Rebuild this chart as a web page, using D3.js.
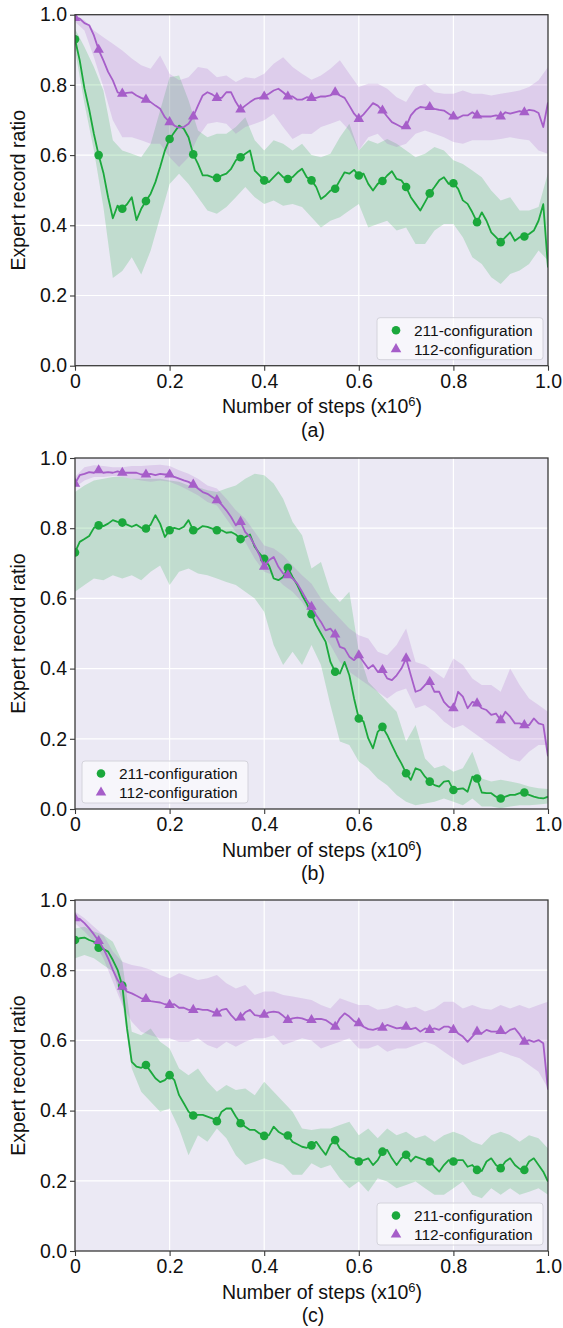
<!DOCTYPE html>
<html>
<head>
<meta charset="utf-8">
<script src="https://cdn.jsdelivr.net/npm/d3@7"></script>
<style>
  body { margin: 0; background: #fff; }
  svg text { font-family: "Liberation Sans", Arial, Helvetica, sans-serif; fill: #111; }
</style>
</head>
<body>
<div id="chart"></div>
<script>

//******************************************************************************
//**  Data (mean every 0.01 x10^6 steps, band every 0.02 x10^6 steps)
//******************************************************************************
var xTicks = [0, 0.2, 0.4, 0.6, 0.8, 1.0];
var yTicks = [0, 0.2, 0.4, 0.6, 0.8, 1.0];
var seriesNames = ["211-configuration", "112-configuration"];
var captions = ["(a)", "(b)", "(c)"];

var aGreenMean = [
    0.93, 0.87, 0.79, 0.73, 0.66, 0.60, 0.55, 0.48, 0.42, 0.456,
    0.447, 0.46, 0.48, 0.415, 0.447, 0.469, 0.49, 0.523, 0.566, 0.613,
    0.646, 0.665, 0.684, 0.675, 0.651, 0.602, 0.575, 0.542, 0.542, 0.537,
    0.535, 0.542, 0.547, 0.561, 0.585, 0.594, 0.604, 0.613, 0.556, 0.542,
    0.528, 0.523, 0.537, 0.551, 0.537, 0.532, 0.537, 0.551, 0.561, 0.537,
    0.528, 0.509, 0.475, 0.485, 0.499, 0.504, 0.528, 0.551, 0.547, 0.558,
    0.542, 0.547, 0.518, 0.499, 0.518, 0.526, 0.542, 0.554, 0.532, 0.528,
    0.509, 0.480, 0.461, 0.442, 0.466, 0.491, 0.509, 0.528, 0.537, 0.518,
    0.520, 0.504, 0.471, 0.461, 0.437, 0.409, 0.437, 0.413, 0.380, 0.366,
    0.352, 0.366, 0.380, 0.356, 0.366, 0.368, 0.375, 0.385, 0.413, 0.46,
    0.28
];
var aPurpleMean = [
    0.991, 0.989, 0.976, 0.970, 0.941, 0.900, 0.870, 0.837, 0.813, 0.779,
    0.775, 0.777, 0.779, 0.770, 0.763, 0.758, 0.751, 0.741, 0.732, 0.708,
    0.694, 0.684, 0.678, 0.680, 0.689, 0.710, 0.741, 0.770, 0.779, 0.773,
    0.763, 0.763, 0.779, 0.779, 0.751, 0.730, 0.741, 0.751, 0.760, 0.763,
    0.767, 0.775, 0.784, 0.789, 0.779, 0.767, 0.767, 0.758, 0.758, 0.765,
    0.763, 0.763, 0.767, 0.767, 0.770, 0.779, 0.770, 0.763, 0.741, 0.718,
    0.703, 0.716, 0.732, 0.748, 0.741, 0.727, 0.710, 0.694, 0.687, 0.680,
    0.682, 0.713, 0.729, 0.737, 0.735, 0.737, 0.732, 0.729, 0.727, 0.718,
    0.710, 0.706, 0.713, 0.713, 0.722, 0.713, 0.710, 0.710, 0.710, 0.713,
    0.710, 0.722, 0.718, 0.722, 0.725, 0.722, 0.729, 0.727, 0.720, 0.68,
    0.75
];
var aGreenUpper = [
    0.96, 0.908, 0.851, 0.784, 0.642, 0.613, 0.604, 0.594, 0.632, 0.727,
    0.822, 0.827, 0.756, 0.670, 0.651, 0.661, 0.661, 0.680, 0.708, 0.642,
    0.613, 0.642, 0.632, 0.613, 0.632, 0.60,
    0.594, 0.604, 0.651, 0.689, 0.613, 0.642, 0.632, 0.646, 0.632, 0.613,
    0.594, 0.604, 0.623, 0.613, 0.585, 0.575, 0.556, 0.537, 0.499, 0.471,
    0.480, 0.442, 0.442, 0.452, 0.55
];
var aGreenLower = [
    0.90, 0.746, 0.613, 0.452, 0.25, 0.27, 0.309, 0.26, 0.328, 0.423,
    0.518, 0.547, 0.518, 0.480, 0.442, 0.433, 0.452, 0.480, 0.509, 0.480,
    0.461, 0.471, 0.456, 0.461, 0.452, 0.423,
    0.394, 0.413, 0.423, 0.442, 0.461, 0.394, 0.404, 0.413, 0.385, 0.394,
    0.347, 0.347, 0.385, 0.404, 0.404, 0.366, 0.309, 0.290, 0.252, 0.233,
    0.261, 0.271, 0.290, 0.328, 0.30
];
var aPurpleUpper = [
    1.0, 0.984, 0.955, 0.936, 0.917, 0.898, 0.875, 0.856, 0.846, 0.884,
    0.832, 0.813, 0.822, 0.851, 0.846, 0.822, 0.827, 0.808, 0.822, 0.818,
    0.832, 0.860, 0.879, 0.851, 0.832, 0.815,
    0.827, 0.846, 0.870, 0.832, 0.794, 0.803, 0.803, 0.789, 0.765, 0.751,
    0.794, 0.803, 0.779, 0.775, 0.775, 0.784, 0.775, 0.775, 0.770, 0.775,
    0.779, 0.784, 0.794, 0.813, 0.851
];
var aPurpleLower = [
    0.98, 0.955, 0.879, 0.794, 0.699, 0.651, 0.651, 0.642, 0.632, 0.632,
    0.594, 0.566, 0.594, 0.651, 0.689, 0.694, 0.689, 0.661, 0.680, 0.689,
    0.699, 0.718, 0.680, 0.646, 0.661, 0.66,
    0.680, 0.689, 0.699, 0.670, 0.613, 0.651, 0.661, 0.632, 0.623, 0.632,
    0.661, 0.670, 0.661, 0.651, 0.637, 0.632, 0.642, 0.642, 0.642, 0.646,
    0.651, 0.646, 0.642, 0.613, 0.604
];

var bGreenMean = [
    0.731, 0.761, 0.769, 0.778, 0.801, 0.808, 0.806, 0.813, 0.823, 0.818,
    0.816, 0.810, 0.804, 0.810, 0.801, 0.799, 0.810, 0.837, 0.813, 0.775,
    0.794, 0.801, 0.797, 0.804, 0.823, 0.794, 0.797, 0.806, 0.804, 0.799,
    0.794, 0.794, 0.787, 0.789, 0.782, 0.769, 0.775, 0.782, 0.747, 0.728,
    0.713, 0.694, 0.657, 0.652, 0.661, 0.687, 0.661, 0.638, 0.609, 0.585,
    0.555, 0.524, 0.500, 0.476, 0.419, 0.391, 0.386, 0.419, 0.381, 0.315,
    0.258, 0.249, 0.201, 0.173, 0.220, 0.234, 0.211, 0.182, 0.154, 0.130,
    0.102, 0.083, 0.116, 0.111, 0.092, 0.078, 0.068, 0.064, 0.078, 0.080,
    0.054, 0.057, 0.059, 0.049, 0.092, 0.087, 0.047, 0.045, 0.045, 0.035,
    0.030, 0.035, 0.040, 0.040, 0.045, 0.047, 0.040, 0.035, 0.032, 0.030,
    0.035
];
var bPurpleMean = [
    0.927, 0.951, 0.955, 0.960, 0.958, 0.965, 0.958, 0.960, 0.958, 0.962,
    0.958, 0.958, 0.958, 0.958, 0.953, 0.953, 0.955, 0.951, 0.955, 0.953,
    0.953, 0.946, 0.941, 0.936, 0.932, 0.924, 0.913, 0.903, 0.898, 0.889,
    0.880, 0.867, 0.851, 0.832, 0.808, 0.818, 0.789, 0.775, 0.751, 0.723,
    0.690, 0.709, 0.718, 0.690, 0.671, 0.666, 0.657, 0.642, 0.619, 0.595,
    0.576, 0.552, 0.533, 0.509, 0.514, 0.497, 0.462, 0.457, 0.434, 0.424,
    0.438, 0.419, 0.400, 0.410, 0.391, 0.396, 0.372, 0.367, 0.381, 0.400,
    0.429, 0.381, 0.334, 0.339, 0.353, 0.362, 0.334, 0.334, 0.305, 0.291,
    0.287, 0.334, 0.320, 0.287, 0.305, 0.301, 0.287, 0.282, 0.268, 0.272,
    0.253, 0.277, 0.263, 0.244, 0.244, 0.239, 0.239, 0.258, 0.244, 0.24,
    0.15
];
var bGreenUpper = [
    0.903, 0.922, 0.936, 0.941, 0.946, 0.946, 0.941, 0.941, 0.941, 0.941,
    0.936, 0.932, 0.922, 0.917, 0.908, 0.903, 0.913, 0.922, 0.941, 0.955,
    0.951, 0.927, 0.884, 0.818, 0.780, 0.685,
    0.704, 0.619, 0.590, 0.619, 0.448, 0.362, 0.334, 0.305, 0.277, 0.192,
    0.239, 0.144, 0.116, 0.125, 0.106, 0.116, 0.163, 0.087, 0.078, 0.083,
    0.078, 0.073, 0.064, 0.059, 0.057
];
var bGreenLower = [
    0.619, 0.638, 0.657, 0.652, 0.666, 0.657, 0.666, 0.652, 0.676, 0.694,
    0.638, 0.676, 0.685, 0.671, 0.666, 0.657, 0.647, 0.638, 0.619, 0.600,
    0.562, 0.467, 0.410, 0.448, 0.410, 0.467,
    0.410, 0.296, 0.192, 0.182, 0.135, 0.116, 0.087, 0.068, 0.040, 0.021,
    0.011, 0.016, 0.021, 0.030, 0.021, 0.011, 0.030, 0.007, 0.007, 0.002,
    0.007, 0.011, 0.011, 0.013, 0.016
];
var bPurpleUpper = [
    0.946, 0.974, 0.979, 0.977, 0.974, 0.974, 0.977, 0.977, 0.979, 0.981,
    0.977, 0.965, 0.955, 0.941, 0.922, 0.913, 0.884, 0.851, 0.827, 0.789,
    0.751, 0.742, 0.723, 0.694, 0.666, 0.642,
    0.600, 0.571, 0.543, 0.514, 0.495, 0.486, 0.448, 0.438, 0.467, 0.514,
    0.419, 0.410, 0.391, 0.372, 0.429, 0.410, 0.372, 0.353, 0.353, 0.334,
    0.400, 0.353, 0.315, 0.296, 0.277
];
var bPurpleLower = [
    0.917, 0.936, 0.946, 0.946, 0.949, 0.946, 0.941, 0.936, 0.932, 0.936,
    0.932, 0.922, 0.908, 0.894, 0.875, 0.865, 0.827, 0.789, 0.761, 0.713,
    0.676, 0.666, 0.638, 0.619, 0.590, 0.548,
    0.505, 0.467, 0.419, 0.391, 0.372, 0.353, 0.334, 0.315, 0.334, 0.343,
    0.287, 0.296, 0.277, 0.249, 0.230, 0.239, 0.220, 0.201, 0.182, 0.163,
    0.144, 0.135, 0.163, 0.182, 0.182
];

var cGreenMean = [
    0.886, 0.891, 0.893, 0.886, 0.881, 0.864, 0.860, 0.853, 0.829, 0.801,
    0.756, 0.634, 0.539, 0.525, 0.522, 0.530, 0.511, 0.492, 0.481, 0.487,
    0.501, 0.487, 0.444, 0.421, 0.397, 0.386, 0.388, 0.388, 0.383, 0.378,
    0.370, 0.397, 0.406, 0.406, 0.383, 0.364, 0.354, 0.345, 0.345, 0.335,
    0.328, 0.330, 0.354, 0.340, 0.332, 0.329, 0.311, 0.304, 0.297, 0.294,
    0.301, 0.311, 0.292, 0.274, 0.302, 0.316, 0.292, 0.283, 0.269, 0.264,
    0.255, 0.259, 0.264, 0.245, 0.259, 0.283, 0.288, 0.264, 0.245, 0.264,
    0.274, 0.255, 0.269, 0.264, 0.259, 0.255, 0.240, 0.226, 0.245, 0.259,
    0.255, 0.259, 0.259, 0.240, 0.245, 0.231, 0.228, 0.255, 0.264, 0.245,
    0.236, 0.255, 0.264, 0.245, 0.234, 0.231, 0.255, 0.264, 0.245, 0.226,
    0.198
];
var cPurpleMean = [
    0.948, 0.946, 0.934, 0.919, 0.902, 0.883, 0.862, 0.834, 0.801, 0.772,
    0.753, 0.739, 0.734, 0.727, 0.720, 0.718, 0.712, 0.710, 0.708, 0.703,
    0.701, 0.703, 0.693, 0.693, 0.687, 0.687, 0.690, 0.687, 0.687, 0.682,
    0.677, 0.687, 0.690, 0.672, 0.658, 0.665, 0.680, 0.687, 0.672, 0.670,
    0.673, 0.680, 0.682, 0.680, 0.670, 0.658, 0.663, 0.665, 0.663, 0.658,
    0.658, 0.661, 0.661, 0.658, 0.649, 0.639, 0.663, 0.677, 0.668, 0.655,
    0.649, 0.639, 0.632, 0.630, 0.634, 0.636, 0.644, 0.639, 0.634, 0.636,
    0.639, 0.632, 0.636, 0.625, 0.634, 0.630, 0.634, 0.630, 0.639, 0.639,
    0.630, 0.620, 0.611, 0.596, 0.611, 0.625, 0.620, 0.630, 0.625, 0.625,
    0.627, 0.620, 0.630, 0.634, 0.617, 0.596, 0.601, 0.596, 0.601, 0.592,
    0.46
];
var cGreenUpper = [
    0.919, 0.924, 0.910, 0.900, 0.881, 0.824, 0.625, 0.615, 0.634, 0.596,
    0.577, 0.520, 0.501, 0.520, 0.482, 0.454, 0.473, 0.459, 0.463, 0.444,
    0.482, 0.454, 0.425, 0.397, 0.349, 0.345,
    0.349, 0.349, 0.359, 0.368, 0.330, 0.349, 0.321, 0.349, 0.330, 0.340,
    0.321, 0.330, 0.311, 0.330, 0.340, 0.330, 0.311, 0.302, 0.330, 0.340,
    0.330, 0.311, 0.330, 0.321, 0.292
];
var cGreenLower = [
    0.834, 0.843, 0.834, 0.815, 0.796, 0.710, 0.520, 0.454, 0.425, 0.397,
    0.406, 0.349, 0.273, 0.330, 0.311, 0.349, 0.321, 0.273, 0.245, 0.254,
    0.264, 0.254, 0.245, 0.217, 0.217, 0.25,
    0.236, 0.245, 0.207, 0.179, 0.198, 0.169, 0.207, 0.198, 0.179, 0.188,
    0.198, 0.179, 0.160, 0.160, 0.179, 0.198, 0.160, 0.150, 0.179, 0.160,
    0.179, 0.160, 0.169, 0.179, 0.160
];
var cPurpleUpper = [
    0.967, 0.948, 0.924, 0.900, 0.853, 0.824, 0.815, 0.810, 0.801, 0.786,
    0.777, 0.791, 0.782, 0.772, 0.777, 0.786, 0.763, 0.748, 0.758, 0.729,
    0.739, 0.739, 0.729, 0.725, 0.720, 0.715,
    0.701, 0.691, 0.720, 0.710, 0.701, 0.701, 0.687, 0.691, 0.701, 0.691,
    0.696, 0.682, 0.691, 0.710, 0.710, 0.691, 0.701, 0.691, 0.687, 0.701,
    0.691, 0.701, 0.691, 0.701, 0.710
];
var cPurpleLower = [
    0.934, 0.910, 0.881, 0.834, 0.767, 0.701, 0.653, 0.625, 0.615, 0.606,
    0.606, 0.596, 0.596, 0.606, 0.587, 0.577, 0.596, 0.582, 0.596, 0.606,
    0.606, 0.615, 0.587, 0.596, 0.606, 0.60,
    0.577, 0.587, 0.596, 0.606, 0.577, 0.577, 0.587, 0.568, 0.577, 0.577,
    0.587, 0.596, 0.587, 0.568, 0.549, 0.530, 0.539, 0.549, 0.558, 0.568,
    0.558, 0.549, 0.530, 0.511, 0.463
];

// x positions (x10^6 steps) of the mean and band samples
var meanSteps = d3.range(aGreenMean.length).map(function(i){ return i/100; });
var bandSteps = d3.range(aGreenUpper.length).map(function(i){ return i/50; });


//******************************************************************************
//**  Layout
//******************************************************************************
var width = 563, height = 1328;
var plotLeft = 75, plotRight = 548, plotHeight = 351;
var green = "#1ba83c", purple = "#a65ec9";
var bgColor = "#ebe9f4";

var panels = [
    {id: "a", top: 14.7, legend: "right",
     green: [aGreenMean, aGreenUpper, aGreenLower], purple: [aPurpleMean, aPurpleUpper, aPurpleLower]},
    {id: "b", top: 458, legend: "left",
     green: [bGreenMean, bGreenUpper, bGreenLower], purple: [bPurpleMean, bPurpleUpper, bPurpleLower]},
    {id: "c", top: 900, legend: "right",
     green: [cGreenMean, cGreenUpper, cGreenLower], purple: [cPurpleMean, cPurpleUpper, cPurpleLower]}
];

var svg = d3.select("#chart").append("svg")
    .attr("width", width)
    .attr("height", height);


//**************************************************************************
//** drawPanel
//**************************************************************************
var drawPanel = function(p, idx){

    var bottom = p.top + plotHeight;
    var x = d3.scaleLinear().domain([0, 1]).range([plotLeft, plotRight]);
    var y = d3.scaleLinear().domain([0, 1]).range([bottom, p.top]);

    var g = svg.append("g");

    svg.append("clipPath").attr("id", "clip" + p.id)
      .append("rect")
        .attr("x", plotLeft).attr("y", p.top)
        .attr("width", plotRight - plotLeft).attr("height", plotHeight);

    //background
    g.append("rect")
        .attr("x", plotLeft).attr("y", p.top)
        .attr("width", plotRight - plotLeft).attr("height", plotHeight)
        .attr("fill", bgColor);

    //grid
    g.selectAll(".vgrid").data(xTicks.slice(1, -1)).enter().append("line")
        .attr("x1", function(d){ return x(d); }).attr("x2", function(d){ return x(d); })
        .attr("y1", p.top).attr("y2", bottom)
        .attr("stroke", "#fff").attr("stroke-width", 1.2);
    g.selectAll(".hgrid").data(yTicks.slice(1, -1)).enter().append("line")
        .attr("y1", function(d){ return y(d); }).attr("y2", function(d){ return y(d); })
        .attr("x1", plotLeft).attr("x2", plotRight)
        .attr("stroke", "#fff").attr("stroke-width", 1.2);

    var plotArea = g.append("g").attr("clip-path", "url(#clip" + p.id + ")");

    var area = function(upper, lower){
        return d3.area()
            .x(function(d, i){ return x(bandSteps[i]); })
            .y0(function(d, i){ return y(lower[i]); })
            .y1(function(d, i){ return y(upper[i]); })(upper);
    };
    var line = d3.line()
        .x(function(d, i){ return x(meanSteps[i]); })
        .y(function(d){ return y(d); });

    //bands
    plotArea.append("path").attr("d", area(p.green[1], p.green[2]))
        .attr("fill", green).attr("fill-opacity", 0.2);
    plotArea.append("path").attr("d", area(p.purple[1], p.purple[2]))
        .attr("fill", purple).attr("fill-opacity", 0.2);

    //lines + markers
    var series = [
        {vals: p.green[0], color: green, symbol: d3.symbolCircle, size: 58},
        {vals: p.purple[0], color: purple, symbol: d3.symbolTriangle, size: 48}
    ];
    series.forEach(function(s){
        plotArea.append("path").attr("d", line(s.vals))
            .attr("fill", "none").attr("stroke", s.color)
            .attr("stroke-width", 1.8).attr("stroke-linejoin", "round");
        var marks = s.vals.map(function(v, i){ return [meanSteps[i], v]; })
            .filter(function(d, i){ return i % 5 === 0 && i < s.vals.length - 1; });
        plotArea.selectAll(null).data(marks).enter().append("path")
            .attr("d", d3.symbol().type(s.symbol).size(s.size))
            .attr("transform", function(d){ return "translate(" + x(d[0]) + "," + y(d[1]) + ")"; })
            .attr("fill", s.color);
    });

    //frame
    g.append("rect")
        .attr("x", plotLeft).attr("y", p.top)
        .attr("width", plotRight - plotLeft).attr("height", plotHeight)
        .attr("fill", "none").attr("stroke", "#3a3a3a").attr("stroke-width", 1.3);

    //axes
    var yAxis = d3.axisLeft(y).tickValues(yTicks).tickSize(5).tickPadding(3)
        .tickFormat(d3.format(".1f"));
    var xAxis = d3.axisBottom(x).tickValues(xTicks).tickSize(5).tickPadding(3)
        .tickFormat(function(d){ return d === 0 ? "0" : d3.format(".1f")(d); });

    [g.append("g").attr("transform", "translate(" + plotLeft + ",0)").call(yAxis),
     g.append("g").attr("transform", "translate(0," + bottom + ")").call(xAxis)]
    .forEach(function(ax){
        ax.select(".domain").remove();
        ax.selectAll(".tick line").attr("stroke", "#3a3a3a").attr("stroke-width", 1.1);
        ax.selectAll(".tick text").attr("font-size", "19.5px").attr("fill", "#111")
          .style("font-family", "'Liberation Sans', Arial, sans-serif");
    });

    //axis titles
    g.append("text")
        .attr("transform", "translate(25," + (p.top + plotHeight/2) + ") rotate(-90)")
        .attr("text-anchor", "middle").attr("font-size", "19.5px")
        .text("Expert record ratio");

    var xl = g.append("text")
        .attr("x", 322).attr("y", bottom + 47.5)
        .attr("text-anchor", "middle").attr("font-size", "19.5px");
    xl.append("tspan").text("Number of steps (x10");
    xl.append("tspan").attr("dy", -7).attr("font-size", "13px").text("6");
    xl.append("tspan").attr("dy", 7).text(")");

    g.append("text")
        .attr("x", 313).attr("y", bottom + 71)
        .attr("text-anchor", "middle").attr("font-size", "19.5px")
        .text(captions[idx]);

    //legend
    var lw = 166, lh = 42;
    var lx = p.legend === "right" ? plotRight - 5 - lw : plotLeft + 7;
    var ly = bottom - 6 - lh;
    var leg = g.append("g");
    leg.append("rect")
        .attr("x", lx).attr("y", ly).attr("width", lw).attr("height", lh)
        .attr("rx", 3).attr("fill", "#fff").attr("fill-opacity", 0.6)
        .attr("stroke", "#d4d3dc").attr("stroke-width", 1);
    series.forEach(function(s, i){
        var cy = ly + 12.5 + i*19;
        leg.append("path")
            .attr("d", d3.symbol().type(s.symbol).size(s.size))
            .attr("transform", "translate(" + (lx + 19) + "," + cy + ")")
            .attr("fill", s.color);
        leg.append("text")
            .attr("x", lx + 37).attr("y", cy + 5.5)
            .attr("font-size", "15.5px")
            .text(seriesNames[i]);
    });
};

panels.forEach(drawPanel);

</script>
</body>
</html>
